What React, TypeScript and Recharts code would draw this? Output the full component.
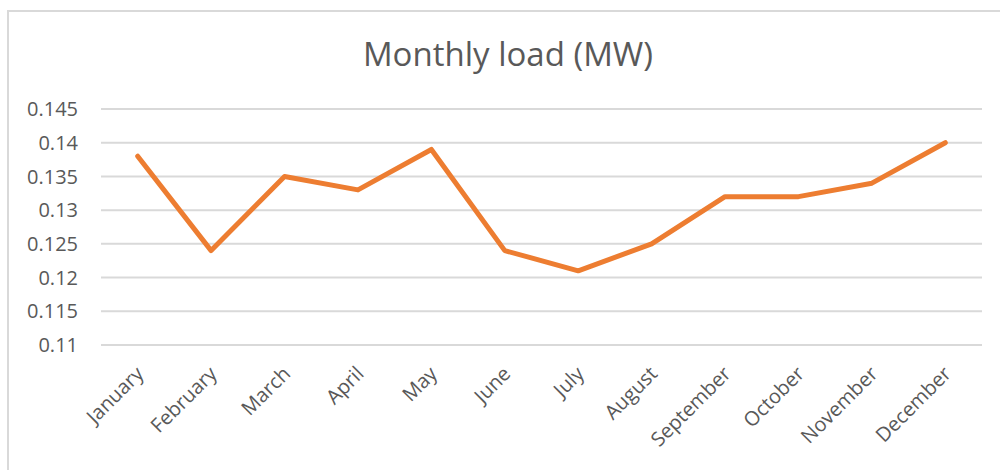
import { LineChart, Line, XAxis, YAxis, CartesianGrid } from "recharts";

const months = [
  "January",
  "February",
  "March",
  "April",
  "May",
  "June",
  "July",
  "August",
  "September",
  "October",
  "November",
  "December",
];
const loadMW = [0.138, 0.124, 0.135, 0.133, 0.139, 0.124, 0.121, 0.125, 0.132, 0.132, 0.134, 0.14];
const yTicks = [0.11, 0.115, 0.12, 0.125, 0.13, 0.135, 0.14, 0.145];

const data = months.map((month, i) => ({ month, load: loadMW[i] }));

const font = "'Open Sans', 'Liberation Sans', sans-serif";
const textColor = "#595959";

export default function App() {
  return (
    <div
      style={{
        position: "absolute",
        left: 0,
        top: 0,
        width: 1000,
        height: 470,
        overflow: "hidden",
        background: "#fff",
        fontFamily: font,
      }}
    >
      <div
        style={{
          position: "absolute",
          left: 7,
          top: 10,
          width: 1000,
          height: 480,
          border: "2px solid #d9d9d9",
          boxSizing: "border-box",
        }}
      />
      <div
        style={{
          position: "absolute",
          left: 0,
          top: 31,
          width: 1016,
          textAlign: "center",
          fontSize: 33,
          color: textColor,
        }}
      >
        Monthly load (MW)
      </div>
      <div style={{ position: "absolute", left: 0, top: 0 }}>
        <LineChart
          width={1000}
          height={470}
          data={data}
          margin={{ top: 109, right: 18, bottom: 0, left: 0 }}
        >
          <CartesianGrid vertical={false} stroke="#d9d9d9" strokeWidth={2} />
          <XAxis
            dataKey="month"
            interval={0}
            axisLine={false}
            tickLine={false}
            height={125}
            padding={{ left: 36.7, right: 36.7 }}
            angle={-45}
            textAnchor="end"
            tickSize={6}
            tickMargin={14}
            dx={-3}
            tick={{ fill: textColor, fontSize: 20, fontFamily: font }}
          />
          <YAxis
            width={101}
            domain={[0.11, 0.145]}
            ticks={yTicks}
            axisLine={false}
            tickLine={false}
            tickSize={8}
            tickMargin={15}
            tickFormatter={(v: number) => String(Number(v.toFixed(3)))}
            tick={{ fill: textColor, fontSize: 20, fontFamily: font }}
          />
          <Line
            type="linear"
            dataKey="load"
            stroke="#ed7d31"
            strokeWidth={5}
            dot={false}
            strokeLinejoin="round"
            strokeLinecap="round"
            isAnimationActive={false}
          />
        </LineChart>
      </div>
    </div>
  );
}
